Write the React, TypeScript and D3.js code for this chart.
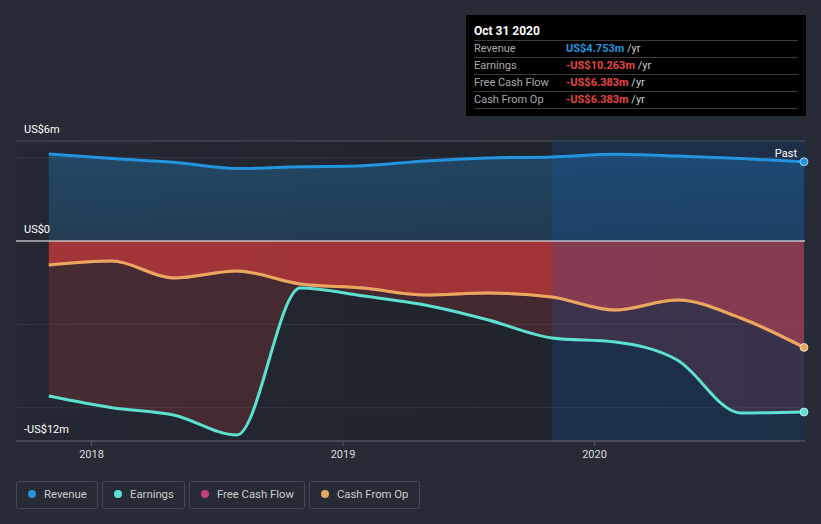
import React from "react";
import * as d3 from "d3";

const dates = [
  "2017-10-31", "2018-01-31", "2018-04-30", "2018-07-31", "2018-10-31",
  "2019-01-31", "2019-04-30", "2019-07-31", "2019-10-31",
  "2020-01-31", "2020-04-30", "2020-07-31", "2020-10-31",
];
const revenue = [5.22, 4.95, 4.72, 4.35, 4.45, 4.52, 4.8, 4.98, 5.04, 5.2, 5.1, 4.95, 4.753];
const earnings = [-9.3, -10.0, -10.44, -11.64, -2.82, -3.3, -3.84, -4.74, -5.82, -6.06, -7.14, -10.32, -10.263];
const freeCashFlow = [-1.44, -1.2, -2.22, -1.8, -2.58, -2.82, -3.24, -3.12, -3.36, -4.14, -3.54, -4.62, -6.383];
const cashFromOp = [-1.44, -1.2, -2.22, -1.8, -2.58, -2.82, -3.24, -3.12, -3.36, -4.14, -3.54, -4.62, -6.383];
const yTickLabels = [
  { v: 6, label: "US$6m" },
  { v: 0, label: "US$0" },
  { v: -12, label: "-US$12m" },
];
const gridValues = [5, -5, -10];
const xTickYears = [2018, 2019, 2020];
const legendItems = ["Revenue", "Earnings", "Free Cash Flow", "Cash From Op"];
const tooltipRows = [
  { label: "Revenue", value: "US$4.753m", neg: false },
  { label: "Earnings", value: "-US$10.263m", neg: true },
  { label: "Free Cash Flow", value: "-US$6.383m", neg: true },
  { label: "Cash From Op", value: "-US$6.383m", neg: true },
];

const COLORS = {
  Revenue: "#2394df",
  Earnings: "#5ce1d1",
  "Free Cash Flow": "#c2407c",
  "Cash From Op": "#e8a95b",
};

const W = 821;
const H = 524;
const BG = "#262b36";
const FONT = "Roboto, 'Noto Sans', sans-serif";

export default function App() {
  const parse = d3.timeParse("%Y-%m-%d");
  const ds = dates.map((d) => parse(d) as Date);
  const x = d3.scaleTime().domain([ds[0], ds[ds.length - 1]]).range([48.8, 804]);
  const y = d3.scaleLinear().domain([-12, 6]).range([441, 141]);
  const curve = d3.curveMonotoneX;

  const mk = (vals: number[]) => vals.map((v, i) => ({ d: ds[i], v }));
  const line = d3.line<{ d: Date; v: number }>().x((p) => x(p.d)).y((p) => y(p.v)).curve(curve);
  const area = d3
    .area<{ d: Date; v: number }>()
    .x((p) => x(p.d))
    .y0(y(0))
    .y1((p) => y(p.v))
    .curve(curve);

  const revD = mk(revenue);
  const earnD = mk(earnings);
  const fcfD = mk(freeCashFlow);
  const cfoD = mk(cashFromOp);

  const highlightX = x(parse("2019-10-31") as Date);
  const plotL = 16;
  const plotR = 805;
  const last = ds.length - 1;

  const legendBoxes = [
    { x: 16, w: 81 },
    { x: 102, w: 82 },
    { x: 189, w: 115 },
    { x: 309, w: 110 },
  ];

  return (
    <div style={{ position: "fixed", left: 0, top: 0, width: W, height: H }}>
      <svg width={W} height={H} style={{ display: "block", fontFamily: FONT }}>
        <defs>
          <linearGradient id="pastShade" x1="0" x2="1" y1="0" y2="0">
            <stop offset="0%" stopColor="#000" stopOpacity={0.08} />
            <stop offset="100%" stopColor="#000" stopOpacity={0.22} />
          </linearGradient>
          <linearGradient id="revFill" x1="0" x2="0" y1="0" y2="1">
            <stop offset="0%" stopColor="#2394df" stopOpacity={0.3} />
            <stop offset="100%" stopColor="#2394df" stopOpacity={0.2} />
          </linearGradient>
        </defs>
        <rect x={0} y={0} width={W} height={H} fill={BG} />
        <rect x={plotL} y={y(6)} width={plotR - plotL} height={y(-12) - y(6)} fill="url(#pastShade)" />

        {gridValues.map((v) => (
          <line key={v} x1={plotL} x2={plotR} y1={y(v)} y2={y(v)} stroke="#3a404c" strokeWidth={1} opacity={0.7} />
        ))}
        <line x1={plotL} x2={plotR} y1={y(6)} y2={y(6)} stroke="#4a505c" strokeWidth={1} />

        <path d={area(revD) || ""} fill="url(#revFill)" />
        <path d={area(earnD) || ""} fill="#d83c3c" fillOpacity={0.2} />
        <path d={area(fcfD) || ""} fill="#d83c3c" fillOpacity={0.4} />
        <path d={area(cfoD) || ""} fill="#d83c3c" fillOpacity={0.38} />

        <rect x={highlightX} y={y(6)} width={plotR - highlightX} height={y(-12) - y(6)} fill="#1a5fc0" fillOpacity={0.2} />

        <line x1={plotL} x2={plotR} y1={y(0)} y2={y(0)} stroke="#ffffff" strokeWidth={1} />
        <line x1={plotL} x2={plotR} y1={y(-12)} y2={y(-12)} stroke="#4f5562" strokeWidth={1.5} />

        <path d={line(revD) || ""} fill="none" stroke={COLORS.Revenue} strokeWidth={3} />
        <path d={line(fcfD) || ""} fill="none" stroke={COLORS["Free Cash Flow"]} strokeWidth={3} />
        <path d={line(cfoD) || ""} fill="none" stroke={COLORS["Cash From Op"]} strokeWidth={3} />
        <path d={line(earnD) || ""} fill="none" stroke={COLORS.Earnings} strokeWidth={3} />

        {[
          { v: revenue[last], c: COLORS.Revenue },
          { v: cashFromOp[last], c: COLORS["Cash From Op"] },
          { v: earnings[last], c: COLORS.Earnings },
        ].map((p, i) => (
          <circle key={i} cx={x(ds[last])} cy={y(p.v)} r={4} fill={p.c} stroke="#ffffff" strokeOpacity={0.6} strokeWidth={1} />
        ))}

        <text x={797} y={157} fill="#ffffff" fontSize={11} textAnchor="end">Past</text>

        {yTickLabels.map((t) => (
          <text key={t.label} x={24} y={y(t.v) - 8} fill="#ffffff" fontSize={11}>
            {t.label}
          </text>
        ))}

        {xTickYears.map((yr) => {
          const xv = x(new Date(yr, 0, 1));
          return (
            <g key={yr}>
              <line x1={xv} x2={xv} y1={y(-12)} y2={y(-12) + 5} stroke="#4f5562" />
              <text x={xv} y={458} fill="#dddddd" fontSize={11} textAnchor="middle">
                {yr}
              </text>
            </g>
          );
        })}

        {legendItems.map((name, i) => {
          const b = legendBoxes[i];
          return (
            <g key={name}>
              <rect x={b.x + 0.5} y={481.5} width={b.w} height={27} rx={2} fill="none" stroke="#434956" />
              <circle cx={b.x + 16} cy={494} r={4} fill={(COLORS as any)[name]} />
              <text x={b.x + 28} y={498} fill="#cccccc" fontSize={11.3}>
                {name}
              </text>
            </g>
          );
        })}

        <g>
          <rect x={466} y={15} width={340} height={101} fill="#000000" />
          <text x={474} y={35} fill="#ffffff" fontSize={12} fontWeight="bold">Oct 31 2020</text>
          {tooltipRows.map((r, i) => {
            const top = 40 + i * 17;
            return (
              <g key={r.label}>
                <line x1={474} x2={798} y1={top + 0.5} y2={top + 0.5} stroke="#3c3c3c" />
                <text x={474} y={top + 12} fill="#aaaaaa" fontSize={11}>{r.label}</text>
                <text x={566} y={top + 12} fontSize={11}>
                  <tspan fill={r.neg ? "#e64545" : "#2394df"} fontWeight="bold">{r.value}</tspan>
                  <tspan fill="#cccccc"> /yr</tspan>
                </text>
              </g>
            );
          })}
          <line x1={474} x2={798} y1={108.5} y2={108.5} stroke="#3c3c3c" />
        </g>
      </svg>
    </div>
  );
}
